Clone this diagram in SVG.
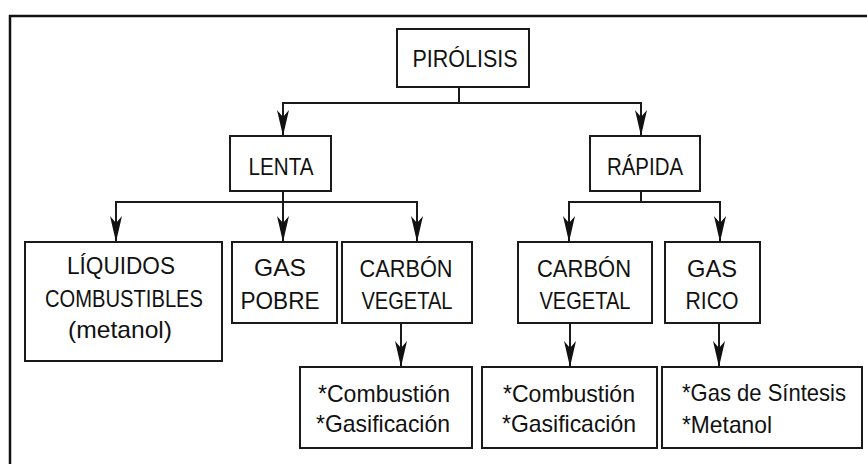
<svg xmlns="http://www.w3.org/2000/svg" width="867" height="464" viewBox="0 0 867 464">
<style>
.box{fill:#fff;stroke:#1a1a1a;stroke-width:2}
.t{font-family:"Liberation Sans",Arial,sans-serif;font-size:24px;fill:#111}
.c{text-anchor:middle}
.con{fill:none;stroke:#1a1a1a;stroke-width:2}
.arr{marker-end:url(#ah)}
</style>
<defs>
<marker id="ah" viewBox="-26 -7 26 14" refX="0" refY="0" markerWidth="26" markerHeight="14" markerUnits="userSpaceOnUse" orient="auto">
<path d="M0,0 L-26,-6 L-19,0 L-26,6 Z" fill="#111"/>
</marker>
</defs>
<rect width="867" height="464" fill="#fff"/>
<path d="M10,464 V16 H867" fill="none" stroke="#111" stroke-width="2.5"/>

<g id="connectors">
<path class="con" d="M459,87 V103"/>
<path class="con arr" d="M459,103 H283 V136"/>
<path class="con arr" d="M459,103 H641 V136"/>
<path class="con" d="M283,191 V202"/>
<path class="con arr" d="M283,202 H116 V242"/>
<path class="con arr" d="M283,202 V242"/>
<path class="con arr" d="M283,202 H417 V242"/>
<path class="con" d="M641,191 V202"/>
<path class="con arr" d="M641,202 H569 V242"/>
<path class="con arr" d="M641,202 H720 V242"/>
<path class="con arr" d="M401,323 V367"/>
<path class="con arr" d="M570,323 V367"/>
<path class="con arr" d="M719,323 V367"/>
</g>

<g id="pirolisis">
<rect class="box" x="397" y="29" width="132" height="58"/>
<text class="t c" x="465" y="67" textLength="105" lengthAdjust="spacingAndGlyphs">PIRÓLISIS</text>
</g>
<g id="lenta">
<rect class="box" x="230" y="136" width="101" height="55"/>
<text class="t c" x="281" y="175" textLength="65" lengthAdjust="spacingAndGlyphs">LENTA</text>
</g>
<g id="rapida">
<rect class="box" x="590" y="136" width="110" height="55"/>
<text class="t c" x="645" y="175" textLength="76" lengthAdjust="spacingAndGlyphs">RÁPIDA</text>
</g>
<g id="liquidos">
<rect class="box" x="25" y="242" width="197" height="119"/>
<text class="t c" x="121" y="274" textLength="108" lengthAdjust="spacingAndGlyphs">LÍQUIDOS</text>
<text class="t c" x="124" y="307" textLength="158" lengthAdjust="spacingAndGlyphs">COMBUSTIBLES</text>
<text class="t c" x="120" y="338" textLength="104" lengthAdjust="spacingAndGlyphs">(metanol)</text>
</g>
<g id="gas-pobre">
<rect class="box" x="232" y="242" width="105" height="81"/>
<text class="t c" x="280" y="276" textLength="52" lengthAdjust="spacingAndGlyphs">GAS</text>
<text class="t c" x="280" y="309" textLength="79" lengthAdjust="spacingAndGlyphs">POBRE</text>
</g>
<g id="carbon-lenta">
<rect class="box" x="342" y="242" width="130" height="81"/>
<text class="t c" x="406" y="277" textLength="93" lengthAdjust="spacingAndGlyphs">CARBÓN</text>
<text class="t c" x="407" y="309" textLength="91" lengthAdjust="spacingAndGlyphs">VEGETAL</text>
</g>
<g id="carbon-rapida">
<rect class="box" x="518" y="242" width="134" height="81"/>
<text class="t c" x="584" y="277" textLength="94" lengthAdjust="spacingAndGlyphs">CARBÓN</text>
<text class="t c" x="585" y="309" textLength="91" lengthAdjust="spacingAndGlyphs">VEGETAL</text>
</g>
<g id="gas-rico">
<rect class="box" x="665" y="242" width="95" height="81"/>
<text class="t c" x="712" y="277" textLength="50" lengthAdjust="spacingAndGlyphs">GAS</text>
<text class="t c" x="712" y="309" textLength="53" lengthAdjust="spacingAndGlyphs">RICO</text>
</g>
<g id="usos-lenta">
<rect class="box" x="300" y="367" width="172" height="81"/>
<text class="t" x="318" y="402" textLength="132" lengthAdjust="spacingAndGlyphs">*Combustión</text>
<text class="t" x="316" y="432" textLength="134" lengthAdjust="spacingAndGlyphs">*Gasificación</text>
</g>
<g id="usos-rapida">
<rect class="box" x="482" y="367" width="175" height="81"/>
<text class="t" x="503" y="402" textLength="132" lengthAdjust="spacingAndGlyphs">*Combustión</text>
<text class="t" x="502" y="432" textLength="134" lengthAdjust="spacingAndGlyphs">*Gasificación</text>
</g>
<g id="usos-gas">
<rect class="box" x="662" y="367" width="200" height="81"/>
<text class="t" x="682" y="401" textLength="164" lengthAdjust="spacingAndGlyphs">*Gas de Síntesis</text>
<text class="t" x="682" y="433" textLength="90" lengthAdjust="spacingAndGlyphs">*Metanol</text>
</g>
</svg>
